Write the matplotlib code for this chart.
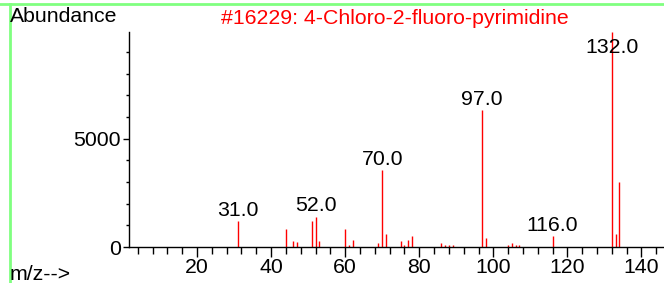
import numpy as np
import matplotlib.pyplot as plt
from matplotlib.lines import Line2D
from matplotlib.ticker import MultipleLocator

plt.rcParams['font.family'] = ['Liberation Sans', 'DejaVu Sans']

# m/z and abundance
mz = [31, 44, 46, 47, 51, 52, 53, 60, 61, 62, 69, 70, 71, 75, 76, 77, 78,
      86, 87, 88, 89, 97, 98, 104, 105, 106, 107, 116, 132, 133, 134]
abundance = [1200, 820, 290, 215, 1200, 1400, 290, 820, 100, 310, 190,
             3550, 600, 290, 90, 310, 510, 185, 90, 90, 90, 6320, 415, 110,
             200, 90, 90, 510, 9930, 610, 3010]
labeled = [31, 52, 70, 97, 116, 132]
title = '#16229: 4-Chloro-2-fluoro-pyrimidine'

fig = plt.figure(figsize=(6.64, 2.83), dpi=100)
ax = fig.add_axes([0.195, 0.127, 0.804, 0.761])

ax.vlines(mz, 0, abundance, color='#ff0000', lw=1.0)

for m, h in zip(mz, abundance):
    if m in labeled:
        ax.annotate('%.1f' % m, (m, min(h, 8700)), xytext=(0, 1),
                    textcoords='offset points', ha='center', va='bottom',
                    fontsize=15.3, color='black')

ax.set_xlim(1.77, 145.9)
ax.set_ylim(0, 9935)

ax.xaxis.set_major_locator(MultipleLocator(20))
ax.xaxis.set_minor_locator(MultipleLocator(4))
ax.yaxis.set_major_locator(MultipleLocator(5000))
ax.yaxis.set_minor_locator(MultipleLocator(1000))
ax.tick_params(axis='x', which='major', length=7, width=1, labelsize=15.3,
               pad=1)
ax.tick_params(axis='x', which='minor', length=5, width=1)
ax.tick_params(axis='y', which='major', length=4, width=1, labelsize=15.3,
               pad=2)
ax.tick_params(axis='y', which='minor', length=2, width=1)

for s in ['top', 'right']:
    ax.spines[s].set_visible(False)
for s in ['left', 'bottom']:
    ax.spines[s].set_linewidth(1)

fig.text(10 / 664, 1 - 17 / 283, 'Abundance', fontsize=15.3, va='center',
         ha='left')
fig.text(10 / 664, 1 - 274 / 283, 'm/z-->', fontsize=15.3, va='center',
         ha='left')
fig.text(395 / 664, 1 - 19 / 283, title, fontsize=15.3, color='#ff0000',
         ha='center', va='center')

# light green frame lines on top and left
fig.add_artist(Line2D([0, 1], [1 - 4 / 283, 1 - 4 / 283], color='#80ff80',
                      lw=2, transform=fig.transFigure))
fig.add_artist(Line2D([9.5 / 664, 9.5 / 664], [0, 1 - 4 / 283],
                      color='#80ff80', lw=2, transform=fig.transFigure))

fig.savefig('out.png', dpi=100)
